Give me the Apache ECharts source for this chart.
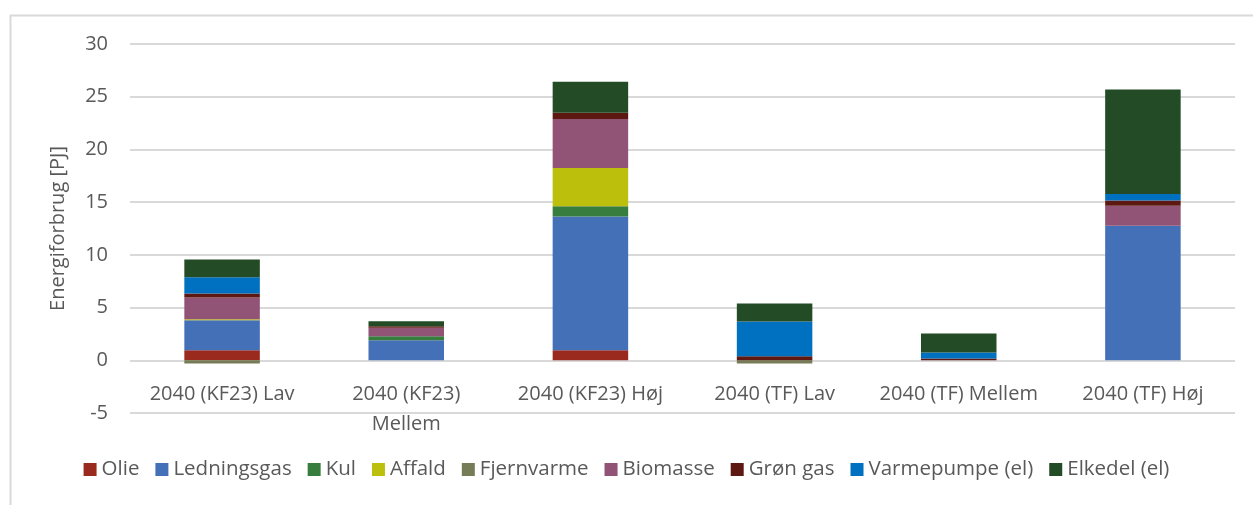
<!DOCTYPE html>
<html>
<head>
<meta charset="utf-8">
<script src="https://cdn.jsdelivr.net/npm/echarts@6/dist/echarts.min.js"></script>
<style>
  html, body { margin: 0; padding: 0; background: #fff; }
  #main { width: 1253px; height: 505px; }
</style>
</head>
<body>
<div id="main"></div>
<script>
// kategorier
var categories = ["2040 (KF23) Lav", "2040 (KF23)\nMellem", "2040 (KF23) Høj", "2040 (TF) Lav", "2040 (TF) Mellem", "2040 (TF) Høj"];

// energiforbrug pr. brændsel [PJ]
var olie        = [0.95, 0,    0.95, 0,     0,    0];
var ledningsgas = [2.85, 1.9,  12.7, 0,     0,    12.75];
var kul         = [0,    0.38, 0.95, 0,     0,    0];
var affald      = [0.1,  0,    3.63, 0,     0,    0];
var fjernvarme  = [-0.3, 0,    0,    -0.3,  0,    0];
var biomasse    = [2.05, 0.8,  4.66, 0,     0,    1.9];
var groenGas    = [0.38, 0.15, 0.6,  0.38,  0.18, 0.5];
var varmepumpe  = [1.54, 0,    0,    3.3,   0.57, 0.63];
var elkedel     = [1.7,  0.47, 2.93, 1.7,   1.8,  9.9];

var yTicks = [-5, 0, 5, 10, 15, 20, 25, 30];

var seriesDefs = [
  { name: "Olie", data: olie, color: "#9b2a1e" },
  { name: "Ledningsgas", data: ledningsgas, color: "#4470b8" },
  { name: "Kul", data: kul, color: "#367d3e" },
  { name: "Affald", data: affald, color: "#bcbf0c" },
  { name: "Fjernvarme", data: fjernvarme, color: "#767c56" },
  { name: "Biomasse", data: biomasse, color: "#915376" },
  { name: "Grøn gas", data: groenGas, color: "#5e1812" },
  { name: "Varmepumpe (el)", data: varmepumpe, color: "#0070c0" },
  { name: "Elkedel (el)", data: elkedel, color: "#234b26" }
];

var myChart = echarts.init(document.getElementById("main"));
var font = "Open Sans";
var fs = 20;
var option = {
  backgroundColor: "#fff",
  animation: false,
  textStyle: { fontFamily: font },
  graphic: [
    {
      type: "rect",
      shape: { x: 10.5, y: 15.5, width: 1260, height: 500 },
      style: { fill: "none", stroke: "#d9d9d9", lineWidth: 2 },
      silent: true
    }
  ],
  legend: {
    bottom: 20,
    left: "center",
    itemWidth: 13,
    itemHeight: 13,
    itemGap: 16,
    icon: "rect",
    textStyle: { fontFamily: font, fontSize: 20.5, color: "#595959" },
    data: seriesDefs.map(function (s) { return s.name; })
  },
  grid: {
    left: 130,
    right: 18,
    top: 44,
    bottom: 92,
    containLabel: false
  },
  xAxis: {
    type: "category",
    data: categories,
    offset: -52,
    axisLine: { show: false, onZero: false },
    axisTick: { show: false },
    axisLabel: {
      color: "#595959",
      fontSize: fs,
      fontFamily: font,
      margin: 18,
      lineHeight: 30,
      interval: 0
    }
  },
  yAxis: {
    type: "value",
    min: yTicks[0],
    max: yTicks[yTicks.length - 1],
    interval: 5,
    name: "Energiforbrug [PJ]",
    nameLocation: "middle",
    nameGap: 62,
    nameTextStyle: { color: "#595959", fontSize: fs, fontFamily: font },
    axisLine: { show: false },
    axisTick: { show: false },
    axisLabel: { color: "#595959", fontSize: fs, fontFamily: font, margin: 22 },
    splitLine: { lineStyle: { color: "#d9d9d9", width: 2 } }
  },
  series: seriesDefs.map(function (s) {
    return {
      name: s.name,
      type: "bar",
      stack: "total",
      barWidth: "41%",
      data: s.data,
      itemStyle: { color: s.color }
    };
  })
};
myChart.setOption(option);
</script>
</body>
</html>
